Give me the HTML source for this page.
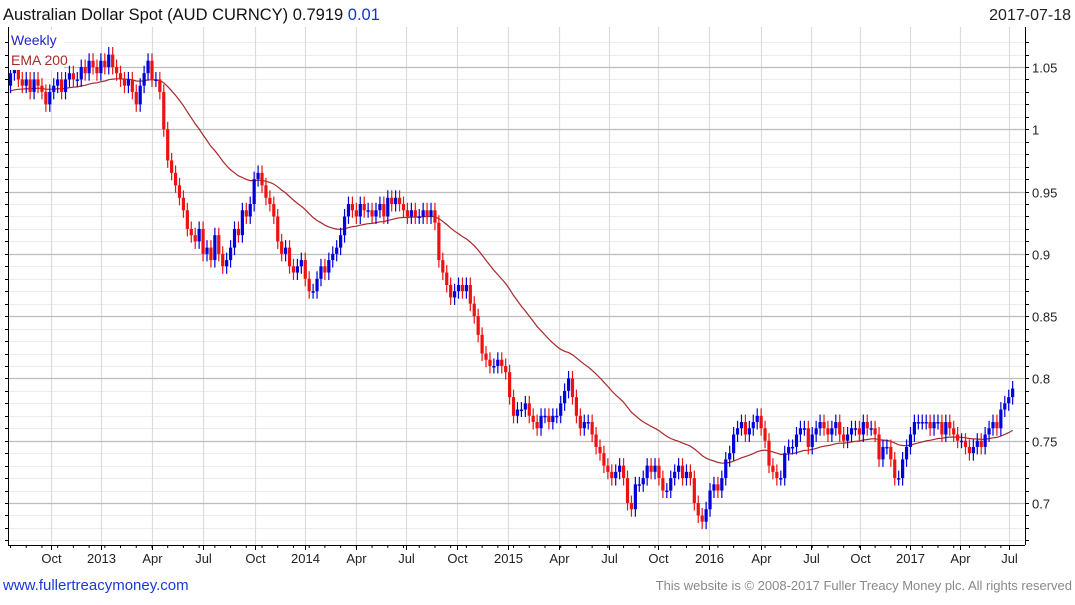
<!DOCTYPE html>
<html><head><meta charset="utf-8"><style>
body{margin:0;background:#fff;width:1075px;height:600px;overflow:hidden;font-family:"Liberation Sans",sans-serif}
svg text{font-family:"Liberation Sans",sans-serif}
</style></head><body>
<svg id="c" width="1075" height="600"></svg>
<script>
const yTicks=[0.7,0.75,0.8,0.85,0.9,0.95,1,1.05];
const yTickLabels=["0.7","0.75","0.8","0.85","0.9","0.95","1","1.05"];
const xLabels=["Oct","2013","Apr","Jul","Oct","2014","Apr","Jul","Oct","2015","Apr","Jul","Oct","2016","Apr","Jul","Oct","2017","Apr","Jul"];
const xLabelWeeks=[10.3,23.0,36.0,49.0,62.2,74.9,87.9,100.6,113.6,126.6,139.6,152.3,164.8,177.7,191.0,203.7,216.2,228.9,241.6,254.1];
const closes=[1.045,1.05,1.04,1.035,1.04,1.03,1.04,1.035,1.03,1.02,
1.03,1.035,1.04,1.03,1.04,1.045,1.04,1.04,1.05,1.045,1.055,1.05,1.045,
1.055,1.05,1.06,1.05,1.045,1.04,1.035,1.04,1.03,1.02,1.035,1.045,
1.055,1.04,1.04,1.03,1.0,0.975,0.965,0.955,0.945,
0.935,0.92,0.915,0.91,0.92,0.9,0.905,0.895,0.915,0.9,0.89,0.895,
0.905,0.92,0.915,0.935,0.93,0.94,0.96,0.965,0.955,0.945,0.94,0.93,
0.91,0.9,0.905,0.89,0.885,0.89,0.895,0.88,0.87,0.87,0.88,0.89,
0.885,0.895,0.9,0.905,0.915,0.93,0.94,0.935,0.93,0.94,0.935,0.935,
0.93,0.935,0.94,0.93,0.945,0.94,0.945,0.94,0.935,0.93,0.935,0.93,
0.93,0.935,0.93,0.935,0.925,0.895,0.885,0.875,0.865,0.87,0.875,0.87,
0.875,0.86,0.85,0.835,0.82,0.815,0.81,0.81,0.815,0.81,0.805,0.785,
0.77,0.775,0.775,0.78,0.77,0.765,0.76,0.77,0.77,0.765,0.77,0.77,
0.78,0.79,0.8,0.785,0.77,0.76,0.765,0.765,0.755,0.745,0.74,0.73,
0.725,0.72,0.725,0.73,0.72,0.70,0.695,0.715,0.715,0.72,0.73,0.725,
0.73,0.72,0.71,0.71,0.72,0.725,0.73,0.72,0.725,0.72,0.70,0.69,
0.685,0.695,0.71,0.715,0.71,0.72,0.735,0.74,0.755,0.76,0.765,0.755,
0.76,0.765,0.77,0.76,0.75,0.73,0.725,0.72,0.72,0.74,0.745,0.745,
0.755,0.76,0.76,0.745,0.755,0.76,0.765,0.76,0.755,0.76,0.765,0.755,
0.75,0.755,0.76,0.76,0.755,0.765,0.76,0.76,0.755,0.735,0.745,0.745,
0.735,0.72,0.72,0.735,0.745,0.755,0.765,0.765,0.765,0.765,0.76,0.765,
0.765,0.755,0.765,0.76,0.755,0.75,0.75,0.745,0.74,0.745,0.75,0.745,
0.755,0.76,0.765,0.76,0.775,0.78,0.785,0.7919];
const firstOpen=1.035;
const emaSeed=1.03;

const NS="http://www.w3.org/2000/svg";
const svg=document.getElementById('c');
const L=8,R=1025,T=27,B=545;
function y(v){return 503-(v-0.7)/0.35*436;}
function x(i){return 10.5+i*3.93;}
function el(t,a,p){const e=document.createElementNS(NS,t);for(const k in a)e.setAttribute(k,a[k]);(p||svg).appendChild(e);return e;}
for(let v=0.67;v<=1.08;v+=0.01){const yy=Math.round(y(v))+0.5;if(yy<T||yy>B)continue;
const g=el('line',{x1:L,x2:R,y1:yy,y2:yy,stroke:'#ececec','stroke-width':1});

}
xLabelWeeks.forEach((w,i)=>{const xx=Math.round(x(w))+0.5;
const g=el('line',{x1:xx,x2:xx,y1:T,y2:B,stroke:'#dcdcdc','stroke-width':1.2});


const t=el('text',{x:xx,y:563,'font-size':13,fill:'#222','text-anchor':'middle'});t.textContent=xLabels[i];


el('line',{x1:xx,x2:xx,y1:B,y2:B+5,stroke:'#000'});});
yTicks.forEach((v,i)=>{const yy=Math.round(y(v))+0.5;
const g=el('line',{x1:L,x2:R,y1:yy,y2:yy,stroke:'#bdbdbd','stroke-width':1.2});


const t=el('text',{x:1032,y:yy+5,'font-size':13,fill:'#222'});t.textContent=yTickLabels[i];

});
for(let v=0.67;v<=1.08;v+=0.01){const yy=Math.round(y(v))+0.5;if(yy<T||yy>B)continue;
el('line',{x1:R,x2:R+4,y1:yy,y2:yy,stroke:'#000'});el('line',{x1:L,x2:L-3,y1:yy,y2:yy,stroke:'#000'});}
for(let i=0;i<closes.length;i+=4){el('line',{x1:x(i),x2:x(i),y1:B,y2:B+3,stroke:'#000'});}
el('line',{x1:L+0.5,x2:L+0.5,y1:T,y2:B,stroke:'#000'});
el('line',{x1:R+0.5,x2:R+0.5,y1:T,y2:B,stroke:'#000'});
el('line',{x1:L,x2:R,y1:B+0.5,y2:B+0.5,stroke:'#000'});
const k=2/41;let e=emaSeed;let pts=[];
closes.forEach((c,i)=>{e=e+k*(c-e);pts.push(x(i).toFixed(1)+','+y(e).toFixed(1));});
const ema=el('polyline',{points:pts.join(' '),fill:'none',stroke:'#a52a2a','stroke-width':1.2});


closes.forEach((c,i)=>{const o=i?closes[i-1]:firstOpen;const up=c>=o;const col=up?'#0000dd':'#ee1111';
const hi=Math.max(o,c)+0.006,lo=Math.min(o,c)-0.006;const xx=x(i);
const g=el('g',{});


el('line',{x1:xx,x2:xx,y1:y(hi),y2:y(lo),stroke:col,'stroke-width':1.2},g);
const top=y(Math.max(o,c)),h=Math.max(1.5,y(Math.min(o,c))-top);
el('rect',{x:xx-1.6,y:top,width:3.2,height:h,fill:col},g);});
el('rect',{x:9,y:30,width:55,height:40,fill:'#fff'});
const t1=el('text',{x:11,y:45,'font-size':14,fill:'#2222cc'});t1.textContent='Weekly';


const t2=el('text',{x:11,y:65,'font-size':14,fill:'#a52a2a'});t2.textContent='EMA 200';


const tt=el('text',{x:3,y:20,'font-size':16.5,fill:'#111'});tt.innerHTML='Australian Dollar Spot (AUD CURNCY) 0.7919 <tspan fill="#1133dd">0.01</tspan>';


const td=el('text',{x:1071,y:20,'font-size':16,fill:'#222','text-anchor':'end'});td.textContent='2017-07-18';


const f1=el('text',{x:3,y:590,'font-size':15,fill:'#1a3ad6'});f1.textContent='www.fullertreacymoney.com';


const f2=el('text',{x:1072,y:590,'font-size':13,fill:'#888','text-anchor':'end'});f2.textContent='This website is © 2008-2017 Fuller Treacy Money plc. All rights reserved';


</script>
</body></html>
